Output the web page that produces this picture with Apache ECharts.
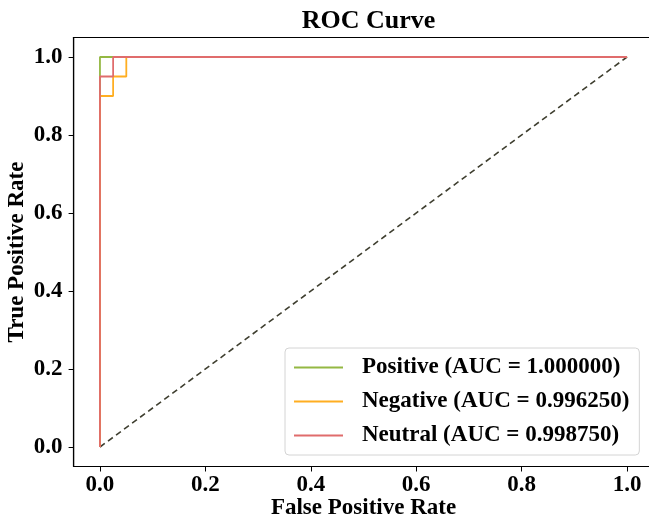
<!DOCTYPE html>
<html>
<head>
<meta charset="utf-8">
<script src="https://cdn.jsdelivr.net/npm/echarts@6/dist/echarts.min.js"></script>
<style>
html,body{margin:0;padding:0;background:#fff;}
#chart{width:649px;height:518px;}
</style>
</head>
<body>
<div id="chart"></div>
<script>
// ---- data ----
const tickValues = [0, 0.2, 0.4, 0.6, 0.8, 1.0];
const positiveFpr = [0, 0, 1];
const positiveTpr = [0, 1, 1];
const negativeFpr = [0, 0, 0.025, 0.025, 0.05, 0.05, 1];
const negativeTpr = [0, 0.9, 0.9, 0.95, 0.95, 1, 1];
const neutralFpr = [0, 0, 0.025, 0.025, 1];
const neutralTpr = [0, 0.95, 0.95, 1, 1];
const chanceFpr = [0, 1];
const chanceTpr = [0, 1];
const seriesNames = ['Positive (AUC = 1.000000)', 'Negative (AUC = 0.996250)', 'Neutral (AUC = 0.998750)'];

const FONT = "'Liberation Serif', 'Times New Roman', serif";
const pairs = (xs, ys) => xs.map((x, i) => [x, ys[i]]);

const chart = echarts.init(document.getElementById('chart'), null, {renderer: 'canvas'});
const labelStyle = {customValues: tickValues, formatter: v => v.toFixed(1), color: '#000', fontFamily: FONT, fontWeight: 'bold', fontSize: 23};
const axisCommon = {
  type: 'value', min: -0.05, max: 1.05,
  splitLine: {show: false},
  axisLine: {show: true, onZero: false, lineStyle: {color: '#000', width: 1.2}},
  axisTick: {show: true, customValues: tickValues, length: 5, inside: false, lineStyle: {color: '#000', width: 1}},
  nameLocation: 'middle',
  nameMoveOverlap: false,
  nameTextStyle: {color: '#000', fontFamily: FONT, fontWeight: 'bold', fontSize: 23}
};
chart.setOption({
  animation: false,
  backgroundColor: '#fff',
  title: {text: 'ROC Curve', left: 363.5, textAlign: 'center', top: 3, textStyle: {fontFamily: FONT, fontWeight: 'bold', fontSize: 26, color: '#000'}},
  grid: {left: 73.6, top: 37.5, width: 579.8, height: 429, show: true, borderColor: '#000', borderWidth: 1.2,
         containLabel: false, outerBoundsMode: 'none'},
  xAxis: Object.assign({}, axisCommon, {name: 'False Positive Rate', nameGap: 30, axisLabel: Object.assign({}, labelStyle, {margin: 7})}),
  yAxis: Object.assign({}, axisCommon, {name: 'True Positive Rate', nameGap: 45, axisLabel: Object.assign({}, labelStyle, {margin: 11})}),
  legend: {
    orient: 'vertical', left: 285, top: 348,
    data: seriesNames,
    backgroundColor: '#fff', borderColor: '#d4d4d4', borderWidth: 1, borderRadius: 4,
    padding: [8, 10, 8, 9], itemGap: 11, itemWidth: 49, itemHeight: 2,
    icon: 'rect',
    textStyle: {fontFamily: FONT, fontWeight: 'bold', fontSize: 23, color: '#000', padding: [0, 0, 0, 14]}
  },
  series: [
    {name: 'chance', type: 'line', data: pairs(chanceFpr, chanceTpr), symbol: 'none', silent: true,
     lineStyle: {color: '#3f3f30', width: 1.6, type: [6, 4]}, z: 1},
    {name: seriesNames[0], type: 'line', data: pairs(positiveFpr, positiveTpr), symbol: 'none',
     lineStyle: {color: '#94b843', width: 1.8}, itemStyle: {color: '#94b843'}, z: 2},
    {name: seriesNames[1], type: 'line', data: pairs(negativeFpr, negativeTpr), symbol: 'none',
     lineStyle: {color: '#ffae21', width: 1.8}, itemStyle: {color: '#ffae21'}, z: 3},
    {name: seriesNames[2], type: 'line', data: pairs(neutralFpr, neutralTpr), symbol: 'none',
     lineStyle: {color: '#e06c6c', width: 1.8}, itemStyle: {color: '#e06c6c'}, z: 4}
  ]
});
</script>
</body>
</html>
